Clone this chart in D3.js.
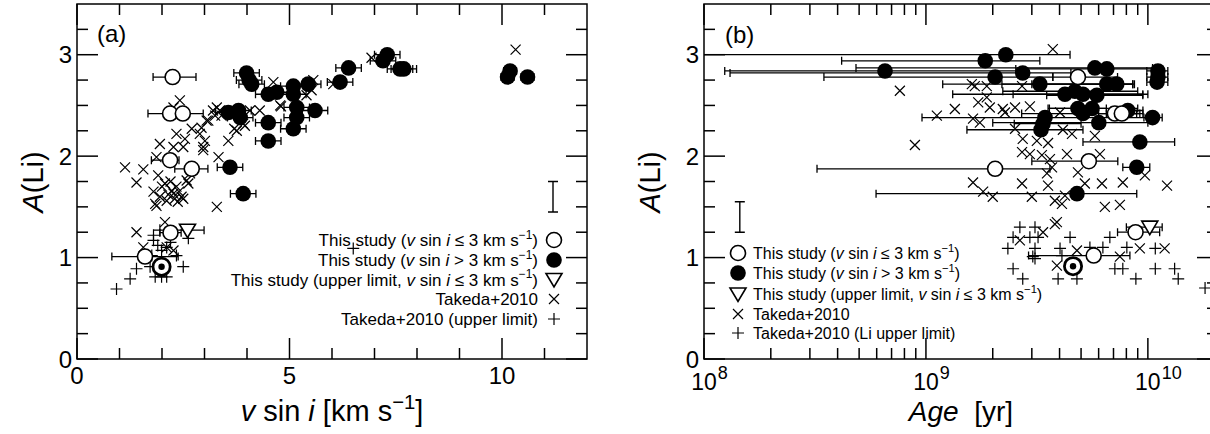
<!DOCTYPE html>
<html>
<head>
<meta charset="utf-8">
<script src="https://cdn.jsdelivr.net/npm/d3@7"></script>
<style>
  body { margin: 0; background: #fff; }
  svg { display: block; }
</style>
</head>
<body>
<script>
const W = 1210
const H = 434
const FONT = '"Liberation Sans", Arial, Helvetica, sans-serif'

// ---- panel (a): v sin i vs A(Li) ----
// [vsini, A(Li), vLo, vHi]
const aOpen = [
  [2.25, 2.78, 1.79, 2.80], [2.19, 2.42, 1.67, 2.60], [2.49, 2.42, 2.10, 2.97],
  [2.19, 1.96, 1.75, 2.40], [2.70, 1.875, 2.30, 3.08], [2.20, 1.245, 1.95, 2.45],
  [1.60, 1.01, 0.82, 2.38]
]
const aUpper = [[2.60, 1.27, 2.25, 2.99]]
const aSun = [[1.99, 0.91]]
// [vsini, A(Li), err]
const aFilled = [
  [3.99, 2.82, 0.3], [4.05, 2.75, 0.3], [4.11, 2.71, 0.3], [3.56, 2.43, 0.3], [3.80, 2.45, 0.3],
  [3.84, 2.38, 0.3], [4.50, 2.33, 0.3], [4.50, 2.15, 0.3], [3.60, 1.89, 0.3], [3.91, 1.63, 0.3],
  [4.50, 2.61, 0.3], [4.70, 2.63, 0.3], [5.09, 2.69, 0.3], [5.09, 2.61, 0.3], [5.44, 2.71, 0.3],
  [5.60, 2.45, 0.3], [5.17, 2.48, 0.3], [5.17, 2.38, 0.3], [5.09, 2.27, 0.3], [6.19, 2.73, 0.3],
  [6.39, 2.87, 0.3], [7.30, 3.00, 0.3], [7.20, 2.94, 0.3], [7.60, 2.86, 0.3], [7.69, 2.86, 0.3],
  [10.19, 2.84, 0.15], [10.13, 2.78, 0.15], [10.60, 2.78, 0.15]
]
const aTakeda = [
  [2.42, 2.55], [2.27, 2.48], [3.29, 2.48], [1.13, 1.89], [1.40, 1.74], [1.56, 1.87], [1.95, 2.12],
  [1.87, 1.99], [1.80, 1.65], [1.84, 1.53], [2.11, 1.56], [2.27, 1.63], [2.34, 1.70], [2.46, 1.60],
  [2.58, 1.76], [2.66, 1.83], [2.27, 2.09], [2.50, 2.09], [2.54, 2.17], [2.34, 2.22], [2.70, 2.27],
  [2.89, 2.22], [2.93, 2.28], [2.97, 2.09], [3.01, 2.15], [3.09, 2.35], [3.25, 2.40], [3.33, 1.99],
  [3.40, 2.40], [3.56, 2.15], [3.76, 2.25], [3.95, 2.30], [3.29, 1.50], [4.30, 2.45], [4.78, 2.50],
  [4.62, 2.73], [1.91, 1.81], [2.07, 1.73], [2.23, 1.66], [2.37, 1.55], [2.50, 1.58], [1.87, 1.51],
  [2.62, 1.73], [2.07, 1.35], [1.40, 1.25], [1.56, 1.10], [2.11, 1.10], [2.27, 1.07], [3.36, 2.45],
  [3.05, 2.35], [3.91, 2.32], [4.07, 2.45], [5.56, 2.75], [5.52, 2.65], [5.40, 2.60], [6.03, 2.71],
  [6.93, 2.97], [2.97, 2.06], [10.32, 3.05], [4.80, 2.49], [2.00, 1.70], [2.15, 1.62], [2.20, 1.75],
  [2.40, 1.65], [2.30, 1.58], [1.95, 1.60], [3.20, 2.45], [3.70, 2.27]
]
const aTakedaUL = [
  [0.93, 0.69], [1.25, 0.79], [1.40, 0.89], [1.72, 0.91], [1.84, 0.81], [1.99, 0.81], [2.50, 0.91],
  [1.80, 1.17], [1.80, 1.22], [1.95, 1.27], [2.11, 1.10], [1.99, 1.07], [2.34, 1.02], [2.62, 1.19],
  [1.76, 1.02], [2.11, 0.81], [6.50, 1.09], [1.90, 1.12], [2.20, 1.15]
]
const aSysErr = [11.2, 1.6, 0.15]

// ---- panel (b): age vs A(Li) ----
// [age (yr), A(Li), ageLo, ageHi]
const bOpen = [
  [4.84e9, 2.78, 3.73e9, 7.3e9], [7.10e9, 2.42, 6.0e9, 9.2e9], [7.63e9, 2.42, 6.5e9, 9.5e9],
  [5.42e9, 1.95, 3.0e9, 7.32e9], [2.05e9, 1.875, 3.23e8, 3.62e9], [8.80e9, 1.25, 7.3e9, 1.13e10],
  [5.70e9, 1.02, 2.9e9, 8.3e9]
]
const bUpper = [[1.02e10, 1.30, 8.0e9, 1.16e10]]
const bSun = [[4.6e9, 0.915]]
const bFilled = [
  [6.54e8, 2.84, 1.24e8, 2.6e9], [2.29e9, 3.00, 5e7, 4.46e9], [1.85e9, 2.94, 4.17e8, 3.26e9],
  [2.05e9, 2.78, 3.47e8, 3.73e9], [2.73e9, 2.82, 1.31e8, 4.5e9], [3.26e9, 2.71, 1.19e9, 8.55e9],
  [5.77e9, 2.87, 4.84e8, 1.05e10], [6.53e9, 2.86, 2.54e9, 1.05e10], [1.11e10, 2.84, 9.89e9, 1.23e10],
  [1.11e10, 2.78, 9.89e9, 1.23e10], [1.10e10, 2.73, 9.89e9, 1.23e10], [6.53e9, 2.71, 2.2e9, 8.55e9],
  [7.24e9, 2.71, 3.0e9, 8.7e9], [4.23e9, 2.61, 1.32e9, 9.49e9], [4.69e9, 2.64, 2.22e9, 9.0e9],
  [5.10e9, 2.61, 2.47e9, 1.0e10], [5.89e9, 2.60, 3.5e9, 9.49e9], [4.84e9, 2.47, 3.55e9, 9.0e9],
  [5.10e9, 2.42, 2.7e9, 8.9e9], [5.60e9, 2.47, 3.6e9, 6.5e9], [8.12e9, 2.45, 6.8e9, 9.5e9],
  [1.05e10, 2.38, 9.6e9, 1.16e10], [6.01e9, 2.33, 2.0e9, 1.0e10], [3.44e9, 2.38, 9.6e8, 1.0e10],
  [3.37e9, 2.32, 2.5e9, 5.0e9], [3.30e9, 2.26, 1.53e9, 5.1e9], [9.20e9, 2.14, 5.1e9, 1.32e10],
  [8.91e9, 1.89, 7.71e9, 1.02e10], [4.79e9, 1.63, 5.96e8, 8.91e9]
]
const bTakeda = [
  [3.73e9, 3.055], [7.63e8, 2.645], [1.61e9, 2.71], [1.66e9, 2.69], [1.88e9, 2.69], [2.71e9, 2.69],
  [1.88e9, 2.58], [1.72e9, 2.53], [1.94e9, 2.48], [1.35e9, 2.465], [1.12e9, 2.40], [1.63e9, 2.37],
  [1.75e9, 2.33], [2.22e9, 2.465], [2.27e9, 2.43], [2.52e9, 2.48], [2.94e9, 2.49], [4.02e9, 2.43],
  [2.52e9, 2.27], [2.73e9, 2.17], [8.92e8, 2.11], [3.16e9, 2.15], [3.55e9, 2.13], [4.14e9, 2.26],
  [4.55e9, 2.22], [5.77e9, 2.20], [2.71e9, 2.04], [2.94e9, 2.02], [3.33e9, 2.01], [3.62e9, 1.97],
  [4.32e9, 2.02], [6.08e9, 2.02], [3.70e9, 1.89], [3.51e9, 1.83], [4.84e9, 1.84], [1.63e9, 1.74],
  [1.81e9, 1.65], [2.0e9, 1.60], [2.71e9, 1.73], [3.0e9, 1.60], [3.55e9, 1.71], [3.81e9, 1.56],
  [4.10e9, 1.53], [4.23e9, 1.61], [5.2e9, 1.73], [6.21e9, 1.73], [7.71e9, 1.74], [9.69e9, 1.81],
  [1.22e10, 1.71], [6.4e9, 1.50], [7.48e9, 1.52], [3.89e9, 1.35], [2.65e9, 1.17], [3.37e9, 1.25],
  [4.79e9, 1.07], [7.48e9, 1.01], [9.2e9, 1.09], [1.19e10, 1.09], [3.89e9, 0.92], [3.81e9, 1.33]
]
const bTakedaUL = [
  [2.65e9, 1.30], [3.10e9, 1.30], [2.47e9, 1.20], [2.94e9, 1.20], [3.2e9, 1.20], [4.46e9, 1.20],
  [2.34e9, 1.09], [3.10e9, 1.09], [4.02e9, 1.09], [5.48e9, 1.10], [6.27e9, 1.10], [6.74e9, 1.20],
  [8.04e9, 1.10], [1.08e10, 1.09], [3.10e9, 0.99], [3.03e9, 1.01], [4.10e9, 1.02], [2.47e9, 0.89],
  [2.73e9, 0.79], [3.94e9, 0.79], [4.79e9, 0.79], [7.1e9, 0.89], [7.71e9, 0.89], [8.83e9, 0.79],
  [1.08e10, 0.89], [1.32e10, 0.89], [1.37e10, 0.79], [1.81e10, 0.70]
]
const bSysErr = [1.45e8, 1.4, 0.15]

const yTicks = [0, 1, 2, 3]
const aXTicks = [0, 5, 10]
const bXTicks = [1e8, 1e9, 1e10]

// legend texts: parts with italic / superscript flags
const vsini = (rel) => [
  { t: 'v', i: true }, { t: ' sin ' }, { t: 'i', i: true }, { t: ` ${rel} 3 km s` }, { t: '−1', sup: true }
]
const aLegend = [
  { m: 'open', parts: [{ t: 'This study (' }, ...vsini('≤'), { t: ')' }] },
  { m: 'filled', parts: [{ t: 'This study (' }, ...vsini('>'), { t: ')' }] },
  { m: 'tri', parts: [{ t: 'This study (upper limit, ' }, ...vsini('≤'), { t: ')' }] },
  { m: 'cross', parts: [{ t: 'Takeda+2010' }] },
  { m: 'plus', parts: [{ t: 'Takeda+2010 (upper limit)' }] }
]
const bLegend = aLegend.map((d, k) => k === 4 ? { m: 'plus', parts: [{ t: 'Takeda+2010 (Li upper limit)' }] } : d)

const svg = d3.select('body').append('svg')
  .attr('width', W).attr('height', H)
  .style('font-family', FONT)
const defs = svg.append('defs')

const yScale = d3.scaleLinear().domain([0, 3.5]).range([359, 4])
const xa = d3.scaleLinear().domain([0, 12]).range([77, 587])
const xb = d3.scaleLog().domain([1e8, 2.07e10]).range([704, 1218])

function richText(sel, parts, fs) {
  let up = false
  parts.forEach(p => {
    const ts = sel.append('tspan').text(p.t)
    if (p.i) ts.style('font-style', 'italic')
    if (p.sup) {
      ts.attr('font-size', fs * 0.7).attr('dy', -fs * 0.42)
      up = true
    } else if (up) {
      ts.attr('dy', fs * 0.42)
      up = false
    }
  })
}

function marker(g, type, x, y) {
  if (type === 'open') {
    g.append('circle').attr('cx', x).attr('cy', y).attr('r', 7.5)
      .attr('fill', '#fff').attr('stroke', '#000').attr('stroke-width', 1.6)
  } else if (type === 'filled') {
    g.append('circle').attr('cx', x).attr('cy', y).attr('r', 7.8).attr('fill', '#000')
  } else if (type === 'tri') {
    g.append('path').attr('d', `M${x - 8},${y - 6}L${x + 8},${y - 6}L${x},${y + 7.5}Z`)
      .attr('fill', '#fff').attr('stroke', '#000').attr('stroke-width', 1.6).attr('stroke-linejoin', 'miter')
  } else if (type === 'cross') {
    g.append('path').attr('d', `M${x - 5},${y - 5}L${x + 5},${y + 5}M${x - 5},${y + 5}L${x + 5},${y - 5}`)
      .attr('stroke', '#000').attr('stroke-width', 1.2).attr('fill', 'none')
  } else if (type === 'plus') {
    g.append('path').attr('d', `M${x - 6},${y}H${x + 6}M${x},${y - 6}V${y + 6}`)
      .attr('stroke', '#000').attr('stroke-width', 1.2).attr('fill', 'none')
  } else if (type === 'sun') {
    g.append('circle').attr('cx', x).attr('cy', y).attr('r', 8.6)
      .attr('fill', '#fff').attr('stroke', '#000').attr('stroke-width', 2.8)
    g.append('circle').attr('cx', x).attr('cy', y).attr('r', 3.2).attr('fill', '#000')
  }
}

function hbar(g, x1, x2, y) {
  g.append('path')
    .attr('d', `M${x1},${y}H${x2}M${x1},${y - 4}V${y + 4}M${x2},${y - 4}V${y + 4}`)
    .attr('stroke', '#000').attr('stroke-width', 1.3).attr('fill', 'none')
}

function tick(x1, y1, x2, y2) {
  svg.append('line').attr('x1', x1).attr('y1', y1).attr('x2', x2).attr('y2', y2)
    .attr('stroke', '#000').attr('stroke-width', 1.5)
}

// inward ticks on all four sides plus the frame; drawn last so nothing covers them
function drawTicks(x, xMajor, xMinor, left, right) {
  const y0 = 4
  const y1 = 359
  const yMinor = d3.range(0.25, 3.5, 0.25).filter(v => v % 1 !== 0)
  xMajor.forEach(v => { tick(x(v), y1, x(v), y1 - 21); tick(x(v), y0, x(v), y0 + 21) })
  xMinor.forEach(v => { tick(x(v), y1, x(v), y1 - 11); tick(x(v), y0, x(v), y0 + 11) })
  yTicks.forEach(v => { tick(left, yScale(v), left + 21, yScale(v)); tick(right, yScale(v), right - 21, yScale(v)) })
  yMinor.forEach(v => { tick(left, yScale(v), left + 11, yScale(v)); tick(right, yScale(v), right - 11, yScale(v)) })
  svg.append('rect').attr('x', left).attr('y', y0)
    .attr('width', right - left).attr('height', y1 - y0)
    .attr('fill', 'none').attr('stroke', '#000').attr('stroke-width', 1.5)
}

function frame(left, right, id) {
  svg.selectAll(null).data(yTicks).enter().append('text')
    .attr('x', left - 5).attr('y', d => yScale(d)).attr('dy', '0.36em')
    .attr('text-anchor', 'end').attr('font-size', 24).text(d => d)
  defs.append('clipPath').attr('id', id).append('rect')
    .attr('x', left).attr('y', 4).attr('width', right - left).attr('height', 355)
  return svg.append('g').attr('clip-path', `url(#${id})`)
}

// ---------- panel (a) ----------
const aMinor = d3.range(1, 12).filter(v => v % 5 !== 0)
const pa = frame(77, 587, 'clipA')

svg.selectAll(null).data(aXTicks).enter().append('text')
  .attr('x', d => xa(d)).attr('y', 367).attr('dy', '0.71em')
  .attr('text-anchor', 'middle').attr('font-size', 24).text(d => d)

aTakeda.forEach(d => marker(pa, 'cross', xa(d[0]), yScale(d[1])))
aTakedaUL.forEach(d => marker(pa, 'plus', xa(d[0]), yScale(d[1])))
aFilled.forEach(d => hbar(pa, xa(d[0] - d[2]), xa(d[0] + d[2]), yScale(d[1])))
aOpen.forEach(d => hbar(pa, xa(d[2]), xa(d[3]), yScale(d[1])))
aUpper.forEach(d => hbar(pa, xa(d[2]), xa(d[3]), yScale(d[1])))
aFilled.forEach(d => marker(pa, 'filled', xa(d[0]), yScale(d[1])))
aOpen.forEach(d => marker(pa, 'open', xa(d[0]), yScale(d[1])))
aUpper.forEach(d => marker(pa, 'tri', xa(d[0]), yScale(d[1])))
aSun.forEach(d => marker(pa, 'sun', xa(d[0]), yScale(d[1])))

function sysBar(g, x, d) {
  const ya = yScale(d[1] + d[2])
  const yb = yScale(d[1] - d[2])
  g.append('path').attr('d', `M${x},${ya}V${yb}M${x - 5},${ya}H${x + 5}M${x - 5},${yb}H${x + 5}`)
    .attr('stroke', '#000').attr('stroke-width', 1.4).attr('fill', 'none')
}
sysBar(svg, xa(aSysErr[0]), aSysErr)

const legA = svg.append('g')
const aRows = [240, 260, 279.5, 299, 319]
aLegend.forEach((d, k) => {
  const t = legA.append('text').attr('x', 538).attr('y', aRows[k] + 6)
    .attr('text-anchor', 'end').attr('font-size', 17)
  richText(t, d.parts, 17)
  marker(legA, d.m, 554, aRows[k])
})

svg.append('text').attr('x', 97).attr('y', 42).attr('font-size', 24).text('(a)')

const axTitle = svg.append('text').attr('x', 332).attr('y', 421)
  .attr('text-anchor', 'middle').attr('font-size', 29)
richText(axTitle, [{ t: 'v', i: true }, { t: ' sin ' }, { t: 'i', i: true }, { t: ' [km s' }, { t: '−1', sup: true }, { t: ']' }], 29)

function yTitle(x) {
  const t = svg.append('text').attr('transform', `translate(${x},182) rotate(-90)`)
    .attr('text-anchor', 'middle').attr('dy', '0.35em').attr('font-size', 29)
  t.append('tspan').style('font-style', 'italic').text('A')
  t.append('tspan').text('(Li)')
}
yTitle(33)

// ---------- panel (b) ----------
const bMinor = []
;[1e8, 1e9, 1e10].forEach(dec => d3.range(2, 10).forEach(m => { if (dec * m < 2.07e10) bMinor.push(dec * m) }))
const pb = frame(704, 1218, 'clipB')

// "10" centred on the tick, exponent as a raised tspan in the same text
bXTicks.forEach(v => {
  const t = svg.append('text').attr('x', xb(v) - 12.8).attr('y', 390).attr('font-size', 23)
  t.append('tspan').text('10')
  t.append('tspan').attr('font-size', 18).attr('dx', 1).attr('dy', -11)
    .text(Math.round(Math.log10(v)))
})

bTakeda.forEach(d => marker(pb, 'cross', xb(d[0]), yScale(d[1])))
bTakedaUL.forEach(d => marker(pb, 'plus', xb(d[0]), yScale(d[1])))
bFilled.forEach(d => hbar(pb, xb(d[2]), xb(d[3]), yScale(d[1])))
bOpen.forEach(d => hbar(pb, xb(d[2]), xb(d[3]), yScale(d[1])))
bUpper.forEach(d => hbar(pb, xb(d[2]), xb(d[3]), yScale(d[1])))
bFilled.forEach(d => marker(pb, 'filled', xb(d[0]), yScale(d[1])))
bOpen.forEach(d => marker(pb, 'open', xb(d[0]), yScale(d[1])))
bUpper.forEach(d => marker(pb, 'tri', xb(d[0]), yScale(d[1])))
bSun.forEach(d => marker(pb, 'sun', xb(d[0]), yScale(d[1])))

sysBar(svg, xb(bSysErr[0]), bSysErr)

const legB = svg.append('g')
const bRows = [253, 273, 294, 314, 333]
bLegend.forEach((d, k) => {
  const t = legB.append('text').attr('x', 753).attr('y', bRows[k] + 5.5)
    .attr('font-size', 16)
  richText(t, d.parts, 16)
  marker(legB, d.m, 738, bRows[k])
})

svg.append('text').attr('x', 725).attr('y', 43).attr('font-size', 24).text('(b)')

const bxTitle = svg.append('text').attr('x', 961).attr('y', 421)
  .attr('text-anchor', 'middle').attr('font-size', 28).style('white-space', 'pre')
bxTitle.append('tspan').style('font-style', 'italic').text('Age')
bxTitle.append('tspan').text('  [yr]')

yTitle(650)

drawTicks(xa, aXTicks, aMinor, 77, 587)
drawTicks(xb, bXTicks, bMinor, 704, 1218)
</script>
</body>
</html>
